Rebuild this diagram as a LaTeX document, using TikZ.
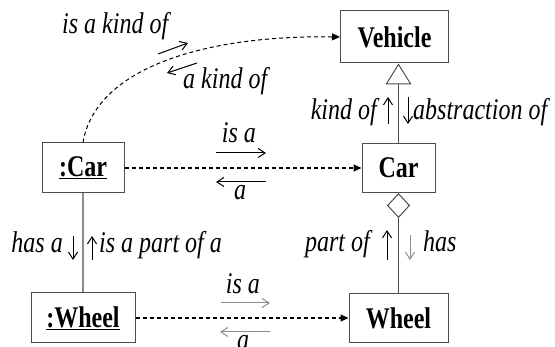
\documentclass[tikz,border=0pt]{standalone}
\usepackage{fontspec}
\setmainfont{Liberation Serif}[FakeStretch=0.8]
\usetikzlibrary{arrows.meta}
\definecolor{boxgray}{gray}{0.3}
\definecolor{linkgray}{gray}{0.55}
\tikzset{obj/.style={draw=boxgray, line width=1pt, inner sep=0pt, font=\bfseries\fontsize{30}{30}\selectfont}}
\tikzset{lbl/.style={inner sep=0pt, font=\itshape\fontsize{30}{30}\selectfont}}
\tikzset{dep/.style={line width=1.2pt, dash pattern=on 4pt off 3pt, -{Triangle[length=8pt,width=7pt]}}}
\tikzset{dir/.style={line width=1pt, -{Straight Barb[length=7pt,width=9pt]}}}

\begin{document}
\begin{tikzpicture}[x=1pt, y=-1pt, node distance=150pt]
  \useasboundingbox (0,0) rectangle (555,347);

  \node[obj, minimum width=82pt, minimum height=50pt] (oCar) at (83,168) {\underline{:Car}};
  \node[obj, minimum width=73pt, minimum height=49pt] (Car) [node distance=315.5pt, right of=oCar] {Car};
  \node[obj, minimum width=108pt, minimum height=52pt] (Vehicle) [node distance=131pt, above of=Car, xshift=-4pt] {Vehicle};
  \node[obj, minimum width=99pt, minimum height=49pt] (Wheel) [below of=Car] {Wheel};
  \node[obj, minimum width=104pt, minimum height=50pt] (oWheel) [below of=oCar] {\underline{:Wheel}};

  % links
  \draw[boxgray, line width=1pt, -{Triangle[open, length=21pt, width=26pt]}] (Car.north) -- (Car.north |- Vehicle.south);
  \draw[boxgray, line width=1pt, -{Diamond[open, length=25pt, width=23pt]}] (Wheel.north) -- (Car.south);
  \draw[linkgray, line width=1.5pt] (oCar) -- (oWheel);
  \draw[dep] (oCar) -- (Car);
  \draw[dep] (oWheel) -- (Wheel);
  \draw[dep, line width=1pt] (oCar.north) .. controls (95,70) and (200,35) .. (Vehicle.west);

  % labels
  \node[lbl, anchor=base west] (isKind) at (62,34) {is a kind of};
  \node[lbl, anchor=base west] (aKind) at (183,89) {a kind of};
  \node[lbl, anchor=base] (isA1) at (239,143) {is a};
  \node[lbl, anchor=base] (a1) at (240,200) {a};
  \node[lbl, anchor=base] (isA2) at (243,294) {is a};
  \node[lbl, anchor=base] (a2) at (243,350) {a};
  \node[lbl, anchor=base east] (kindOf) at (377,120) {kind of};
  \node[lbl, anchor=base west] (abstrOf) at (413,120) {abstraction of};
  \node[lbl, anchor=base east] (hasA) at (63,253) {has a};
  \node[lbl, anchor=base west] (partOfA) at (99,253) {is a part of a};
  \node[lbl, anchor=base east] (partOf) at (370,252) {part of};
  \node[lbl, anchor=base west] (has) at (423,252) {has};

  % reading directions
  \draw[dir] (158,54) -- (188,43);
  \draw[dir] (197,63) -- (167,73);
  \draw[dir] (216,153) -- (266,153);
  \draw[dir] (266,182) -- (216,182);
  \draw[dir, linkgray] (221,303) -- (270,303);
  \draw[dir, linkgray] (270,332) -- (220,332);
  \draw[dir] (388,124) -- (388,97);
  \draw[dir] (408,97) -- (408,124);
  \draw[dir] (73,236) -- (73,260);
  \draw[dir] (92,260) -- (92,236);
  \draw[dir] (387,260) -- (387,230);
  \draw[dir, linkgray] (410,235) -- (410,260);
\end{tikzpicture}
\end{document}
